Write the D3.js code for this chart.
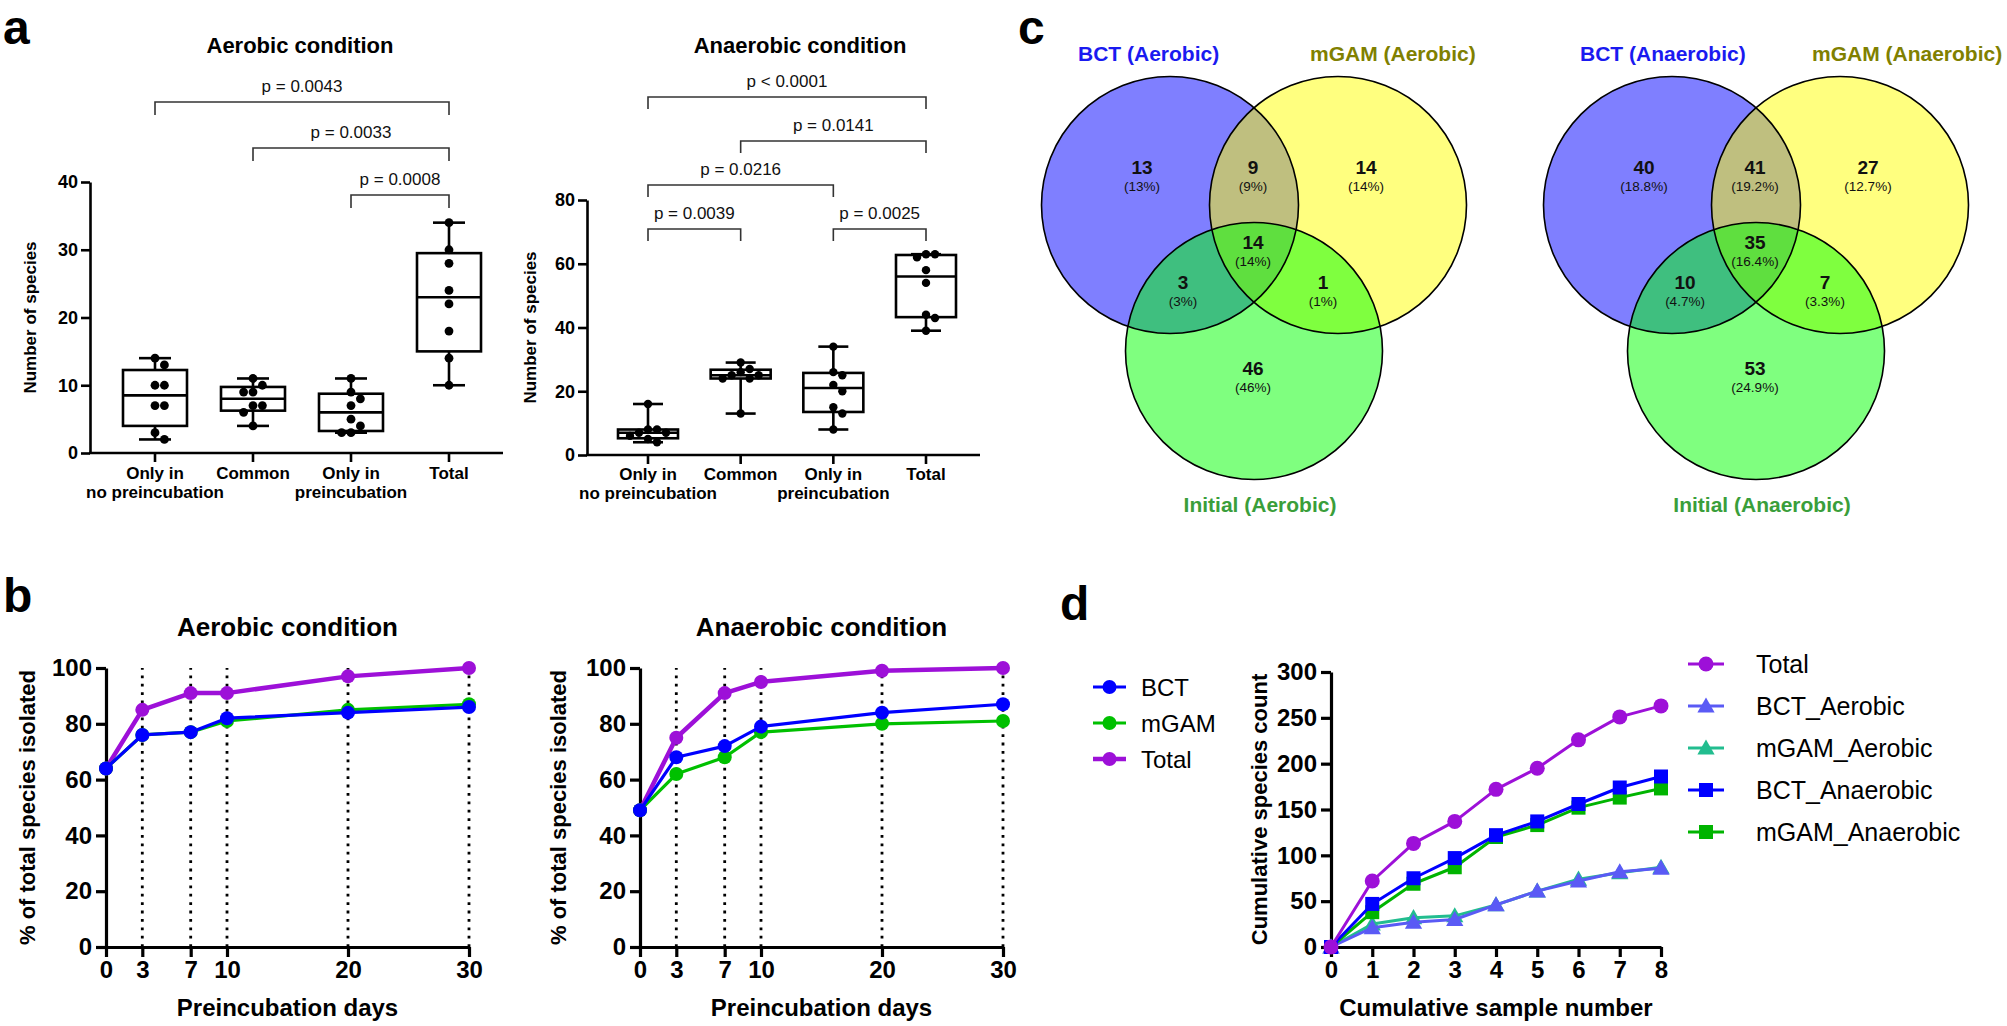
<!DOCTYPE html>
<html><head><meta charset="utf-8">
<script src="https://cdn.jsdelivr.net/npm/d3@7"></script>
<style>
html,body{margin:0;padding:0;background:#fff;}
svg{display:block;}
</style></head><body>
<svg id="c" width="2007" height="1026"></svg>
<script>
// ================= DATA =================
// Panel a : box plots (n = 8 samples per group)
const boxCategories = [["Only in","no preincubation"],["Common"],["Only in","preincubation"],["Total"]];
const aerobicBoxValues = [
  [2,3,7,7,10,10,13,14],
  [4,6,7,7,9,9,10,11],
  [3,3,4,5,7,8,9,11],
  [10,14,18,22,24,28,30,34]
];
const anaerobicBoxValues = [
  [4,5,6,7,7,8,8,16],
  [13,24,24,25,25,26,27,29],
  [8,13,15,20,22,25,26,34],
  [39,43,44,54,58,62,63,63]
];
const aerobicPairs   = [[0,3],[1,3],[2,3]];
const aerobicPLabels = ["p = 0.0043","p = 0.0033","p = 0.0008"];
const anaerobicPairs   = [[0,3],[1,3],[0,2],[0,1],[2,3]];
const anaerobicPLabels = ["p < 0.0001","p = 0.0141","p = 0.0216","p = 0.0039","p = 0.0025"];
const aYTicksAerobic = [0,10,20,30,40];
const aYTicksAnaerobic = [0,20,40,60,80];

// Panel b : % of total species isolated vs preincubation days
const days = [0,3,7,10,20,30];
const bSeriesNames = ["BCT","mGAM","Total"];
const bAerobicBCT   = [64,76,77,82,84,86];
const bAerobicMGAM  = [64,76,77,81,85,87];
const bAerobicTotal = [64,85,91,91,97,100];
const bAnaerobicBCT   = [49,68,72,79,84,87];
const bAnaerobicMGAM  = [49,62,68,77,80,81];
const bAnaerobicTotal = [49,75,91,95,99,100];
const bYTicks = [0,20,40,60,80,100];

// Panel c : Venn diagrams (regions: BCT only, mGAM only, BCT&mGAM, BCT&Initial, mGAM&Initial, all three, Initial only)
const vennRegions = ["BCT","mGAM","BCT_mGAM","BCT_Initial","mGAM_Initial","All","Initial"];
const vennAerobicCounts   = [13,14,9,3,1,14,46];
const vennAnaerobicCounts = [40,27,41,10,7,35,53];
const vennAerobicTitles   = ["BCT (Aerobic)","mGAM (Aerobic)","Initial (Aerobic)"];
const vennAnaerobicTitles = ["BCT (Anaerobic)","mGAM (Anaerobic)","Initial (Anaerobic)"];

// Panel d : cumulative species count
const samples = [0,1,2,3,4,5,6,7,8];
const dSeriesNames = ["Total","BCT_Aerobic","mGAM_Aerobic","BCT_Anaerobic","mGAM_Anaerobic"];
const dTotal         = [0,72,113,137,172,195,226,251,263];
const dBCTAerobic    = [0,21,27,30,46,61,72,82,86];
const dMGAMAerobic   = [0,25,32,34,46,61,74,81,87];
const dBCTAnaerobic  = [0,47,75,97,122,137,156,174,186];
const dMGAMAnaerobic = [0,38,69,87,120,133,152,163,173];
const dYTicks = [0,50,100,150,200,250,300];

// ================= STYLE / LAYOUT =================
const FONT = "'Liberation Sans', Arial, Helvetica, sans-serif";
const C_BLUE = "#0000ff", C_GREEN = "#00c000", C_PURPLE = "#9d10d8";
const C_LBLUE = "#5a5af5", C_TEAL = "#22bd8f", C_DGREEN = "#00b400";

const svg = d3.select("#c").attr("font-family", FONT);

function panelLabel(t, x, y) {
  svg.append("text").attr("x", x).attr("y", y).text(t)
    .attr("font-size", 48).attr("font-weight", "bold").attr("fill", "#000");
}
panelLabel("a", 3, 44);
panelLabel("b", 3, 612);
panelLabel("c", 1018, 44);
panelLabel("d", 1060, 620);

function styleAxis(g, sw, fs) {
  g.attr("font-family", FONT);
  g.selectAll("path.domain").attr("stroke", "#000").attr("stroke-width", sw);
  g.selectAll(".tick line").attr("stroke", "#000").attr("stroke-width", sw);
  g.selectAll(".tick text").attr("font-size", fs).attr("font-weight", "bold").attr("fill", "#000");
}

// quartiles, GraphPad (n+1) method
function q(sorted, p) {
  const n = sorted.length, pos = p * (n + 1);
  if (pos <= 1) return sorted[0];
  if (pos >= n) return sorted[n - 1];
  const lo = Math.floor(pos), f = pos - lo;
  return sorted[lo - 1] + f * (sorted[lo] - sorted[lo - 1]);
}

// simple beeswarm offsets
function swarm(ys, r) {
  const placed = [];
  const order = ys.map((v, i) => i).sort((a, b) => ys[a] - ys[b]);
  const out = new Array(ys.length);
  const d = 2 * r + 0.6;
  order.forEach(i => {
    const y = ys[i];
    let best = 0;
    for (let k = 0; k < 20; k++) {
      const cands = k === 0 ? [0] : [k * d / 2, -k * d / 2];
      let ok = null;
      for (const c of cands) {
        if (placed.every(p => Math.hypot(p.x - c, p.y - y) >= d - 0.01)) { ok = c; break; }
      }
      if (ok !== null) { best = ok; break; }
    }
    placed.push({x: best, y});
    out[i] = best;
  });
  return out;
}

function drawBoxPanel(cfg, values, pairs, pLabels, yTicks, title) {
  const g = svg.append("g");
  const x = d3.scalePoint().domain(d3.range(values.length)).range([cfg.c0, cfg.c3]);
  const y = d3.scaleLinear().domain([0, yTicks[yTicks.length - 1]]).range([cfg.y0, cfg.yTop]);

  const ya = g.append("g").attr("transform", `translate(${cfg.axisX},0)`)
    .call(d3.axisLeft(y).tickValues(yTicks).tickSize(9).tickSizeOuter(0).tickPadding(3));
  styleAxis(ya, 2.6, 18);
  g.append("line").attr("x1", cfg.axisX - 1).attr("x2", cfg.xEnd).attr("y1", cfg.y0).attr("y2", cfg.y0)
    .attr("stroke", "#000").attr("stroke-width", 2.6);
  values.forEach((v, i) => {
    g.append("line").attr("x1", x(i)).attr("x2", x(i)).attr("y1", cfg.y0).attr("y2", cfg.y0 + 9)
      .attr("stroke", "#000").attr("stroke-width", 2.6);
    const t = g.append("text").attr("text-anchor", "middle").attr("font-size", 17).attr("font-weight", "bold");
    boxCategories[i].forEach((line, j) => {
      t.append("tspan").attr("x", x(i)).attr("y", cfg.labY + j * 19).text(line);
    });
  });
  g.append("text").attr("transform", `translate(${cfg.ylabX},${(cfg.y0 + cfg.yTop) / 2}) rotate(-90)`)
    .attr("text-anchor", "middle").attr("dominant-baseline", "central")
    .attr("font-size", 17).attr("font-weight", "bold").text("Number of species");
  g.append("text").attr("x", cfg.titleX).attr("y", cfg.titleY).attr("text-anchor", "middle")
    .attr("font-size", 22).attr("font-weight", "bold").text(title);

  values.forEach((vals, i) => {
    const s = vals.slice().sort((a, b) => a - b);
    const q1 = q(s, 0.25), med = q(s, 0.5), q3 = q(s, 0.75), mn = s[0], mx = s[s.length - 1];
    const cx = x(i), hw = cfg.boxW / 2;
    const bg = g.append("g").attr("stroke", "#000").attr("stroke-width", 2.6).attr("fill", "none");
    bg.append("line").attr("x1", cx).attr("x2", cx).attr("y1", y(q3)).attr("y2", y(mx));
    bg.append("line").attr("x1", cx).attr("x2", cx).attr("y1", y(q1)).attr("y2", y(mn));
    bg.append("line").attr("x1", cx - hw / 2).attr("x2", cx + hw / 2).attr("y1", y(mx)).attr("y2", y(mx));
    bg.append("line").attr("x1", cx - hw / 2).attr("x2", cx + hw / 2).attr("y1", y(mn)).attr("y2", y(mn));
    bg.append("rect").attr("x", cx - hw).attr("width", 2 * hw).attr("y", y(q3)).attr("height", y(q1) - y(q3));
    bg.append("line").attr("x1", cx - hw).attr("x2", cx + hw).attr("y1", y(med)).attr("y2", y(med));
    const ys = vals.map(v => y(v));
    const offs = swarm(ys, cfg.dotR);
    g.selectAll(null).data(vals).enter().append("circle")
      .attr("cx", (d, k) => cx + offs[k]).attr("cy", d => y(d)).attr("r", cfg.dotR).attr("fill", "#000");
  });

  pairs.forEach((p, k) => {
    const by = cfg.brY[k];
    const xa = x(p[0]), xb = x(p[1]);
    g.append("path").attr("d", `M${xa},${by + cfg.drop}V${by}H${xb}V${by + cfg.drop}`)
      .attr("fill", "none").attr("stroke", "#333").attr("stroke-width", 1.6);
    g.append("text").attr("x", (xa + xb) / 2).attr("y", by - 10).attr("text-anchor", "middle")
      .attr("font-size", 17).attr("fill", "#111").text(pLabels[k]);
  });
}

drawBoxPanel({axisX: 90, xEnd: 503, c0: 155, c3: 449, y0: 453, yTop: 182, boxW: 64, titleX: 300, titleY: 53,
  ylabX: 30, labY: 479, brY: [102, 148, 195], drop: 13, dotR: 4.4},
  aerobicBoxValues, aerobicPairs, aerobicPLabels, aYTicksAerobic, "Aerobic condition");
drawBoxPanel({axisX: 587, xEnd: 980, c0: 648, c3: 926, y0: 455, yTop: 200, boxW: 60, titleX: 800, titleY: 53,
  ylabX: 530, labY: 480, brY: [97, 141, 185, 229, 229], drop: 12, dotR: 4.2},
  anaerobicBoxValues, anaerobicPairs, anaerobicPLabels, aYTicksAnaerobic, "Anaerobic condition");

// ================= Panel b =================
function marker(g, shape, cx, cy, color, size) {
  if (shape === "circle") {
    g.append("circle").attr("cx", cx).attr("cy", cy).attr("r", size).attr("fill", color);
  } else if (shape === "square") {
    g.append("rect").attr("x", cx - size).attr("y", cy - size).attr("width", 2 * size).attr("height", 2 * size).attr("fill", color);
  } else {
    const s = size * 1.15;
    g.append("path").attr("d", `M${cx},${cy - s}L${cx + s},${cy + s * 0.75}L${cx - s},${cy + s * 0.75}Z`).attr("fill", color);
  }
}

const B_Y0 = 947, B_YTOP = 668;
function drawBPanel(cfg, series, title) {
  const g = svg.append("g");
  const x = d3.scaleLinear().domain([0, 30]).range([cfg.x0, cfg.x1]);
  const y = d3.scaleLinear().domain([0, 100]).range([B_Y0, B_YTOP]);
  days.filter(d => d > 0).forEach(d => {
    g.append("line").attr("x1", x(d)).attr("x2", x(d)).attr("y1", y(0)).attr("y2", y(100))
      .attr("stroke", "#000").attr("stroke-width", 2.8).attr("stroke-dasharray", "2.8,5.6");
  });
  const ya = g.append("g").attr("transform", `translate(${cfg.x0},0)`)
    .call(d3.axisLeft(y).tickValues(bYTicks).tickSize(10).tickSizeOuter(0).tickPadding(4));
  styleAxis(ya, 3.2, 24);
  const xa = g.append("g").attr("transform", `translate(0,${B_Y0})`)
    .call(d3.axisBottom(x).tickValues(days).tickSize(10).tickSizeOuter(0).tickPadding(4));
  styleAxis(xa, 3.2, 24);
  g.append("text").attr("x", (cfg.x0 + cfg.x1) / 2).attr("y", 636).attr("text-anchor", "middle")
    .attr("font-size", 26).attr("font-weight", "bold").text(title);
  g.append("text").attr("x", (cfg.x0 + cfg.x1) / 2).attr("y", 1016).attr("text-anchor", "middle")
    .attr("font-size", 24).attr("font-weight", "bold").text("Preincubation days");
  g.append("text").attr("transform", `translate(${cfg.ylabX},${(B_Y0 + B_YTOP) / 2}) rotate(-90)`)
    .attr("text-anchor", "middle").attr("dominant-baseline", "central")
    .attr("font-size", 22).attr("font-weight", "bold").text("% of total species isolated");
  const line = d3.line().x((d, i) => x(days[i])).y(d => y(d));
  series.forEach(s => {
    g.append("path").attr("d", line(s.values)).attr("fill", "none").attr("stroke", s.color)
      .attr("stroke-width", s.width).attr("stroke-linejoin", "round");
    s.values.forEach((v, i) => marker(g, "circle", x(days[i]), y(v), s.color, 7));
  });
}
drawBPanel({x0: 106, x1: 469, ylabX: 27}, [
  {values: bAerobicTotal, color: C_PURPLE, width: 4.5},
  {values: bAerobicMGAM, color: C_GREEN, width: 3.2},
  {values: bAerobicBCT, color: C_BLUE, width: 3.2}
], "Aerobic condition");
drawBPanel({x0: 640, x1: 1003, ylabX: 558}, [
  {values: bAnaerobicTotal, color: C_PURPLE, width: 4.5},
  {values: bAnaerobicMGAM, color: C_GREEN, width: 3.2},
  {values: bAnaerobicBCT, color: C_BLUE, width: 3.2}
], "Anaerobic condition");

// legend b
const bLegColors = [C_BLUE, C_GREEN, C_PURPLE];
bSeriesNames.forEach((n, i) => {
  const yy = 687 + i * 36;
  svg.append("line").attr("x1", 1093).attr("x2", 1126).attr("y1", yy).attr("y2", yy)
    .attr("stroke", bLegColors[i]).attr("stroke-width", i === 2 ? 4.5 : 3.2);
  marker(svg, "circle", 1109.5, yy, bLegColors[i], 7);
  svg.append("text").attr("x", 1141).attr("y", yy).attr("dominant-baseline", "central")
    .attr("font-size", 24).text(n);
});

// ================= Panel c : Venn =================
function drawVenn(cfg, counts, titles) {
  const g = svg.append("g").attr("transform", `translate(${cfg.ox},${cfg.oy})`);
  const r = cfg.r;
  const circles = [
    {cx: 0, cy: 0, fill: "#0000ff"},
    {cx: cfg.dx, cy: 0, fill: "#ffff00"},
    {cx: cfg.dx / 2, cy: cfg.dy, fill: "#00ff00"}
  ];
  circles.forEach(c => g.append("circle").attr("cx", c.cx).attr("cy", c.cy).attr("r", r)
    .attr("fill", c.fill).attr("fill-opacity", 0.5));
  circles.forEach(c => g.append("circle").attr("cx", c.cx).attr("cy", c.cy).attr("r", r)
    .attr("fill", "none").attr("stroke", "#000").attr("stroke-width", 1.6));
  const total = d3.sum(counts);
  const fmt = d3.format(cfg.pctFmt);
  const pos = {
    BCT: [-28, -35], mGAM: [196, -35], BCT_mGAM: [83, -35], All: [83, 40],
    BCT_Initial: [13, 80], mGAM_Initial: [153, 80], Initial: [83, 166]
  };
  vennRegions.forEach((reg, i) => {
    const p = pos[reg];
    g.append("text").attr("x", p[0]).attr("y", p[1] + 4).attr("text-anchor", "middle")
      .attr("font-family", FONT).attr("fill", "#111")
      .attr("font-size", 19).attr("font-weight", "bold").text(counts[i]);
    g.append("text").attr("x", p[0]).attr("y", p[1] + 21).attr("text-anchor", "middle")
      .attr("font-family", FONT).attr("fill", "#111")
      .attr("font-size", 13.5).text("(" + fmt(counts[i] / total) + ")");
  });
  const tf = g.append("g").attr("font-size", 21).attr("font-weight", "bold").attr("font-family", FONT);
  tf.append("text").attr("x", -92).attr("y", -144).attr("fill", "#1a1af0").text(titles[0]);
  tf.append("text").attr("x", 140).attr("y", -144).attr("fill", "#808000").text(titles[1]);
  tf.append("text").attr("x", cfg.dx / 2 + 6).attr("y", 307).attr("text-anchor", "middle").attr("fill", "#3a9e3a").text(titles[2]);
}
drawVenn({ox: 1170, oy: 205, r: 128.5, dx: 168, dy: 146, pctFmt: ".0%"}, vennAerobicCounts, vennAerobicTitles);
drawVenn({ox: 1672, oy: 205, r: 128.5, dx: 168, dy: 146, pctFmt: ".1%"}, vennAnaerobicCounts, vennAnaerobicTitles);

// ================= Panel d =================
(function () {
  const cfg = {x0: 1331, x1: 1661, y0: 947, yTop: 672};
  const g = svg.append("g");
  const x = d3.scaleLinear().domain([0, 8]).range([cfg.x0, cfg.x1]);
  const y = d3.scaleLinear().domain([0, 300]).range([cfg.y0, cfg.yTop]);
  const ya = g.append("g").attr("transform", `translate(${cfg.x0},0)`)
    .call(d3.axisLeft(y).tickValues(dYTicks).tickSize(10).tickSizeOuter(0).tickPadding(4));
  styleAxis(ya, 3.2, 24);
  const xa = g.append("g").attr("transform", `translate(0,${cfg.y0})`)
    .call(d3.axisBottom(x).tickValues(samples).tickSize(10).tickSizeOuter(0).tickPadding(4));
  styleAxis(xa, 3.2, 24);
  g.append("text").attr("x", (cfg.x0 + cfg.x1) / 2).attr("y", 1016).attr("text-anchor", "middle")
    .attr("font-size", 24).attr("font-weight", "bold").text("Cumulative sample number");
  g.append("text").attr("transform", `translate(1259,${(cfg.y0 + cfg.yTop) / 2}) rotate(-90)`)
    .attr("text-anchor", "middle").attr("dominant-baseline", "central")
    .attr("font-size", 22).attr("font-weight", "bold").text("Cumulative species count");

  const series = {
    Total: {values: dTotal, color: C_PURPLE, shape: "circle", size: 7.5},
    BCT_Aerobic: {values: dBCTAerobic, color: C_LBLUE, shape: "tri", size: 7.5},
    mGAM_Aerobic: {values: dMGAMAerobic, color: C_TEAL, shape: "tri", size: 7.5},
    BCT_Anaerobic: {values: dBCTAnaerobic, color: C_BLUE, shape: "square", size: 7},
    mGAM_Anaerobic: {values: dMGAMAnaerobic, color: C_DGREEN, shape: "square", size: 7}
  };
  const drawOrder = ["mGAM_Aerobic", "BCT_Aerobic", "mGAM_Anaerobic", "BCT_Anaerobic", "Total"];
  const line = d3.line().x((d, i) => x(samples[i])).y(d => y(d));
  drawOrder.forEach(k => {
    const s = series[k];
    g.append("path").attr("d", line(s.values)).attr("fill", "none").attr("stroke", s.color)
      .attr("stroke-width", 3).attr("stroke-linejoin", "round");
    s.values.forEach((v, i) => marker(g, s.shape, x(samples[i]), y(v), s.color, s.size));
  });
  dSeriesNames.forEach((n, i) => {
    const s = series[n];
    const yy = 664 + i * 42;
    svg.append("line").attr("x1", 1688).attr("x2", 1724).attr("y1", yy).attr("y2", yy)
      .attr("stroke", s.color).attr("stroke-width", 3);
    marker(svg, s.shape, 1706, yy, s.color, s.size);
    svg.append("text").attr("x", 1756).attr("y", yy).attr("dominant-baseline", "central")
      .attr("font-size", 25).text(n);
  });
})();
</script>
</body></html>
